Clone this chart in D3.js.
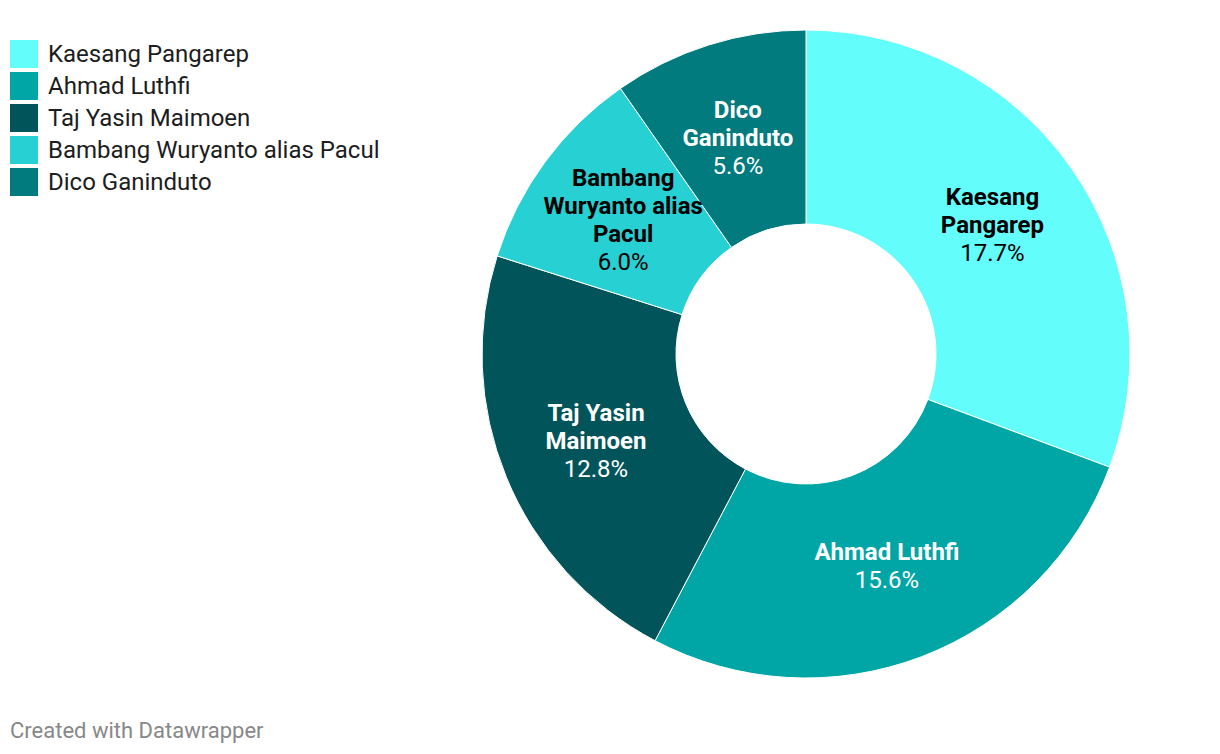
<!DOCTYPE html>
<html><head><meta charset="utf-8">
<script src="https://cdn.jsdelivr.net/npm/d3@7"></script>
<style>
body{margin:0;background:#fff;font-family:Roboto,sans-serif;}
</style></head>
<body><svg id="chart" width="1220" height="754"></svg>
<script>
const categories = ["Kaesang Pangarep","Ahmad Luthfi","Taj Yasin Maimoen","Bambang Wuryanto alias Pacul","Dico Ganinduto"];
const values = [17.7, 15.6, 12.8, 6.0, 5.6];
const labelLines = [["Kaesang","Pangarep"],["Ahmad Luthfi"],["Taj Yasin","Maimoen"],["Bambang","Wuryanto alias","Pacul"],["Dico","Ganinduto"]];
const colors = ["#63fdfc","#00a6a6","#01555a","#27d0d3","#017b7d"];
const textColors = ["#000","#fff","#fff","#000","#fff"];

const svg = d3.select("#chart");
const cx = 806, cy = 354, rOuter = 324, rInner = 130;
const color = d3.scaleOrdinal().domain(categories).range(colors);
const pie = d3.pie().sort(null).value(d => d.v);
const data = categories.map((c,i)=>({c, v: values[i], i}));
const arcs = pie(data);
const arc = d3.arc().innerRadius(rInner).outerRadius(rOuter);
const g = svg.append("g").attr("transform",`translate(${cx},${cy})`);
g.selectAll("path").data(arcs).join("path")
  .attr("d", arc).attr("fill", d=>color(d.data.c))
  .attr("stroke","#fff").attr("stroke-width",1);

const lh = 28;
arcs.forEach(a=>{
  const [x,y] = arc.centroid(a);
  const lines = labelLines[a.data.i].map(t=>({t,b:true})).concat([{t:a.data.v.toFixed(1)+"%",b:false}]);
  const n = lines.length;
  const t = g.append("text").attr("text-anchor","middle").attr("fill",textColors[a.data.i])
    .style("font-size","24px");
  lines.forEach((l,k)=>{
    t.append("tspan").attr("x",x).attr("y", y + (k-(n-1)/2)*lh).attr("dy","0.35em")
     .style("font-weight", l.b?"700":"400").text(l.t);
  });
});

const leg = svg.append("g");
categories.forEach((c,i)=>{
  leg.append("rect").attr("x",10).attr("y",40+i*32).attr("width",28).attr("height",28).attr("fill",color(c));
  leg.append("text").attr("x",48).attr("y",54+i*32).attr("dy","0.35em").style("font-size","24px").attr("fill","#1d1d1d").text(c);
});
svg.append("text").attr("x",10).attr("y",738).style("font-size","22px").attr("fill","#888").text("Created with Datawrapper");
</script></body></html>
